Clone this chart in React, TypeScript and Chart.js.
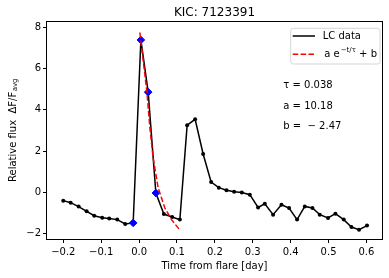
import { useEffect, useRef } from 'react';
import { Chart, registerables } from 'chart.js';

Chart.register(...registerables);

// Light curve data (time from flare [day], relative flux)
const lcTime = [
  -0.2001, -0.1806, -0.1595, -0.1384, -0.1184, -0.0973, -0.0788, -0.0577, -0.0367, -0.0156,
  0.0047, 0.024, 0.0443, 0.0654, 0.0873, 0.1076, 0.1268, 0.1479, 0.169, 0.1901,
  0.2104, 0.2307, 0.2508, 0.2711, 0.2922, 0.314, 0.3317, 0.3536, 0.3757, 0.3958,
  0.4169, 0.4372, 0.4575, 0.4767, 0.4986, 0.5181, 0.54, 0.5603, 0.5804, 0.6015,
];
const lcFlux = [
  -0.4, -0.5, -0.69, -0.92, -1.13, -1.23, -1.27, -1.32, -1.53, -1.48,
  7.39, 4.86, -0.03, -1.05, -1.19, -1.32, 3.26, 3.54, 1.86, 0.5,
  0.23, 0.1, 0.03, -0.01, -0.11, -0.73, -0.55, -1.08, -0.6, -0.76,
  -1.32, -0.68, -0.76, -1.08, -1.24, -1.03, -1.32, -1.68, -1.81, -1.61,
];

// Flare points (blue diamonds)
const flareTime = [-0.0156, 0.0047, 0.024, 0.0443];
const flareFlux = [-1.48, 7.39, 4.86, -0.03];

// Fit curve
const fitTime = [0.002, 0.0206, 0.0285, 0.0372, 0.0504, 0.068, 0.0857, 0.105];
const fitFlux = [7.75, 4.89, 3.12, 1.67, 0.21, -0.76, -1.32, -1.77];

const xTicks = [-0.2, -0.1, 0.0, 0.1, 0.2, 0.3, 0.4, 0.5, 0.6];
const yTicks = [-2, 0, 2, 4, 6, 8];

const titleText = 'KIC: 7123391';
const xLabelText = 'Time from flare [day]';
const yLabelMain = 'Relative flux  ΔF/F';
const yLabelSub = 'avg';
const legendLC = 'LC data';
const legendFitA = 'a e';
const legendFitSup = '−t/τ';
const legendFitB = ' + b';
const paramTexts = ['τ = 0.038', 'a = 10.18', 'b =  − 2.47'];

const FONT = '"DejaVu Sans", sans-serif';

const fmtMinus = (s: string) => s.replace('-', '−');

const textPlugin = {
  id: 'textPlugin',
  afterDraw(chart: any) {
    const ctx = chart.ctx as CanvasRenderingContext2D;
    const ca = chart.chartArea;
    ctx.save();
    // frame
    ctx.strokeStyle = '#000';
    ctx.lineWidth = 1;
    ctx.strokeRect(Math.round(ca.left) - 0.5, Math.round(ca.top) - 0.5, Math.round(ca.right - ca.left) + 1, Math.round(ca.bottom - ca.top) + 1);

    ctx.fillStyle = '#000';
    // title
    ctx.font = `12px ${FONT}`;
    ctx.textAlign = 'center';
    ctx.textBaseline = 'middle';
    ctx.fillText(titleText, (ca.left + ca.right) / 2, 12.5);

    // x label
    ctx.font = `10px ${FONT}`;
    ctx.fillText(xLabelText, (ca.left + ca.right) / 2, 266);

    // y label (rotated, with subscript)
    ctx.save();
    ctx.translate(13, (ca.top + ca.bottom) / 2);
    ctx.rotate(-Math.PI / 2);
    ctx.font = `10px ${FONT}`;
    const wMain = ctx.measureText(yLabelMain).width;
    ctx.font = `7px ${FONT}`;
    const wSub = ctx.measureText(yLabelSub).width;
    const start = -(wMain + wSub) / 2;
    ctx.textAlign = 'left';
    ctx.font = `10px ${FONT}`;
    ctx.fillText(yLabelMain, start, 0);
    ctx.font = `7px ${FONT}`;
    ctx.fillText(yLabelSub, start + wMain + 0.5, 2.5);
    ctx.restore();

    // parameters
    ctx.font = `10px ${FONT}`;
    ctx.textAlign = 'left';
    ctx.textBaseline = 'middle';
    const py = [85.7, 106, 126.7];
    paramTexts.forEach((t, i) => ctx.fillText(t, 283.3, py[i]));

    // legend
    const lx = 290.7, ly = 28.3, lw = 89.3, lh = 35.7, r = 2.5;
    ctx.beginPath();
    ctx.moveTo(lx + r, ly);
    ctx.lineTo(lx + lw - r, ly);
    ctx.quadraticCurveTo(lx + lw, ly, lx + lw, ly + r);
    ctx.lineTo(lx + lw, ly + lh - r);
    ctx.quadraticCurveTo(lx + lw, ly + lh, lx + lw - r, ly + lh);
    ctx.lineTo(lx + r, ly + lh);
    ctx.quadraticCurveTo(lx, ly + lh, lx, ly + lh - r);
    ctx.lineTo(lx, ly + r);
    ctx.quadraticCurveTo(lx, ly, lx + r, ly);
    ctx.closePath();
    ctx.fillStyle = 'rgba(255,255,255,0.8)';
    ctx.fill();
    ctx.strokeStyle = 'rgba(204,204,204,0.8)';
    ctx.lineWidth = 1;
    ctx.stroke();

    const row1 = 36, row2 = 54.3;
    ctx.lineWidth = 1.5;
    ctx.strokeStyle = '#000';
    ctx.beginPath();
    ctx.moveTo(292.7, row1);
    ctx.lineTo(315, row1);
    ctx.stroke();
    ctx.strokeStyle = '#ff0000';
    ctx.setLineDash([5.5, 2.4]);
    ctx.beginPath();
    ctx.moveTo(292.7, row2);
    ctx.lineTo(315, row2);
    ctx.stroke();
    ctx.setLineDash([]);

    ctx.fillStyle = '#000';
    ctx.font = `10px ${FONT}`;
    ctx.fillText(legendLC, 322.7, row1);
    let x = 324.3;
    ctx.fillText(legendFitA, x, row2);
    x += ctx.measureText(legendFitA).width + 1;
    ctx.font = `7px ${FONT}`;
    ctx.fillText(legendFitSup, x, row2 - 4);
    x += ctx.measureText(legendFitSup).width;
    ctx.font = `10px ${FONT}`;
    ctx.fillText(legendFitB, x, row2);
    ctx.restore();
  },
};

export default function App() {
  const ref = useRef<HTMLCanvasElement | null>(null);
  useEffect(() => {
    if (!ref.current) return;
    const chart = new Chart(ref.current, {
      type: 'scatter',
      data: {
        datasets: [
          {
            label: 'fit',
            data: fitTime.map((t, i) => ({ x: t, y: fitFlux[i] })),
            showLine: true,
            borderColor: '#ff0000',
            borderWidth: 1.5,
            borderDash: [5.5, 2.4],
            pointRadius: 0,
            order: 0,
          },
          {
            label: 'flare',
            data: flareTime.map((t, i) => ({ x: t, y: flareFlux[i] })),
            showLine: false,
            pointStyle: 'rectRot',
            pointRadius: 3.8,
            backgroundColor: '#0000ff',
            borderColor: '#0000ff',
            borderWidth: 1,
            order: 1,
          },
          {
            label: 'LC data',
            data: lcTime.map((t, i) => ({ x: t, y: lcFlux[i] })),
            showLine: true,
            borderColor: '#000',
            borderWidth: 1.5,
            pointRadius: 2,
            pointBackgroundColor: '#000',
            pointBorderWidth: 0,
            order: 2,
          },
        ],
      },
      options: {
        responsive: false,
        animation: false,
        devicePixelRatio: 1,
        layout: { padding: { left: 0, top: 22, right: 7, bottom: 0 } },
        plugins: { legend: { display: false }, tooltip: { enabled: false }, title: { display: false } },
        scales: {
          x: {
            type: 'linear',
            min: -0.243,
            max: 0.641,
            afterFit: (s: any) => { s.height = 39; },
            afterBuildTicks: (s: any) => { s.ticks = xTicks.map((v) => ({ value: v })); },
            border: { display: false },
            grid: { drawOnChartArea: false, drawTicks: true, tickLength: 4, color: '#000', lineWidth: 1 },
            ticks: {
              color: '#000',
              font: { family: FONT, size: 10 },
              padding: 3,
              maxRotation: 0,
              callback: (v: any) => fmtMinus(Number(v).toFixed(1)),
            },
          },
          y: {
            type: 'linear',
            min: -2.26,
            max: 8.26,
            afterFit: (s: any) => { s.width = 47; },
            afterBuildTicks: (s: any) => { s.ticks = yTicks.map((v) => ({ value: v })); },
            border: { display: false },
            grid: { drawOnChartArea: false, drawTicks: true, tickLength: 4, color: '#000', lineWidth: 1 },
            ticks: {
              color: '#000',
              font: { family: FONT, size: 10 },
              padding: 2,
              callback: (v: any) => fmtMinus(String(Math.round(Number(v)))),
            },
          },
        },
      },
      plugins: [textPlugin],
    });
    return () => chart.destroy();
  }, []);
  return (
    <div style={{ position: 'absolute', left: 0, top: 0, width: 389, height: 278, background: '#fff' }}>
      <canvas ref={ref} width={389} height={278} style={{ display: 'block', width: 389, height: 278 }} />
    </div>
  );
}
